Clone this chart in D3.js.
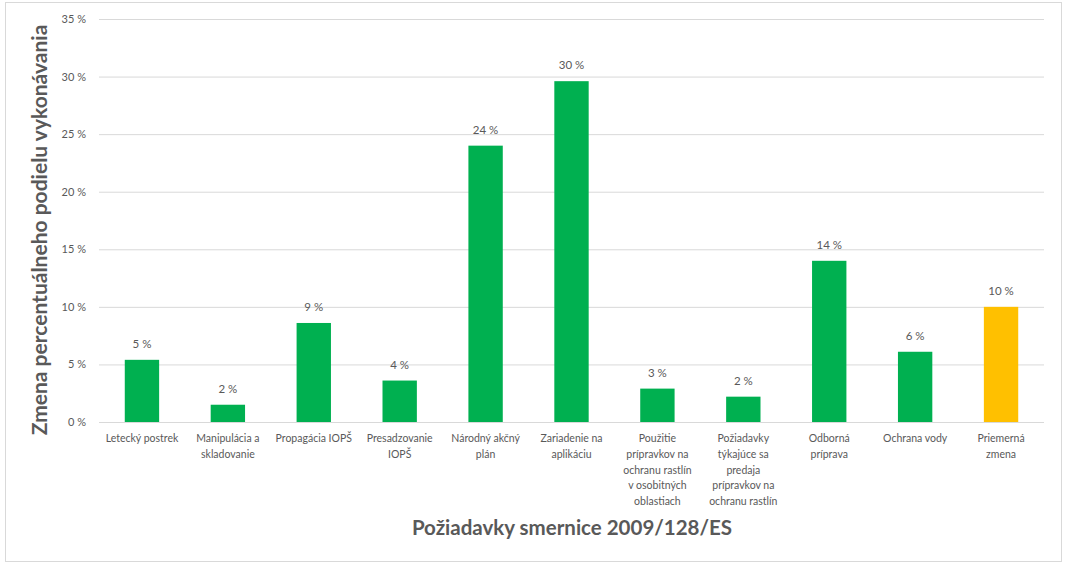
<!doctype html>
<html lang="sk">
<head>
<meta charset="UTF-8">
<script src="https://cdnjs.cloudflare.com/ajax/libs/d3/7.8.5/d3.min.js"></script>
<title>Požiadavky smernice 2009/128/ES</title>
<style>
  body { margin: 0; background: #fff; }
  text { font-family: Lato, "Noto Sans", sans-serif; fill: #595959; }
</style>
</head>
<body>
<div id="chart"></div>
<script>
// categories (pre-split into lines as in the original chart)
const categories = [
  ["Letecký postrek"],
  ["Manipulácia a", "skladovanie"],
  ["Propagácia IOPŠ"],
  ["Presadzovanie", "IOPŠ"],
  ["Národný akčný", "plán"],
  ["Zariadenie na", "aplikáciu"],
  ["Použitie", "prípravkov na", "ochranu rastlín", "v osobitných", "oblastiach"],
  ["Požiadavky", "týkajúce sa", "predaja", "prípravkov na", "ochranu rastlín"],
  ["Odborná", "príprava"],
  ["Ochrana vody"],
  ["Priemerná", "zmena"]
];
const values = [5.4, 1.5, 8.6, 3.6, 24.0, 29.6, 2.9, 2.2, 14.0, 6.1, 10.0];
const labels = ["5 %", "2 %", "9 %", "4 %", "24 %", "30 %", "3 %", "2 %", "14 %", "6 %", "10 %"];
const yTicks = [0, 5, 10, 15, 20, 25, 30, 35];

const W = 1068, H = 570;
const margin = {top: 19, right: 24, bottom: 148, left: 99};
const width = W - margin.left - margin.right,
      height = H - margin.top - margin.bottom;

const svg = d3.select("#chart").append("svg")
    .attr("width", W).attr("height", H);

// outer frame
svg.append("rect")
    .attr("x", 5.5).attr("y", 2.5)
    .attr("width", 1056).attr("height", 559)
    .attr("fill", "#fff").attr("stroke", "#d9d9d9");

const g = svg.append("g").attr("transform", `translate(${margin.left},${margin.top})`);

const x = d3.scaleBand().domain(d3.range(categories.length)).range([0, width])
    .paddingInner(0.6).paddingOuter(0.3);
const y = d3.scaleLinear().domain([0, 35]).range([height, 0]);

// gridlines
g.selectAll("line.grid").data(yTicks).join("line")
    .attr("class", "grid")
    .attr("x1", 0).attr("x2", width)
    .attr("y1", d => y(d) + 0.5).attr("y2", d => y(d) + 0.5)
    .attr("stroke", "#d9d9d9");

// y axis labels
const yAxis = g.append("g").call(d3.axisLeft(y).tickValues(yTicks)
    .tickFormat(d => d + " %").tickSize(0).tickPadding(13));
yAxis.select(".domain").remove();
yAxis.selectAll("text").attr("font-size", 11).attr("fill", "#595959")
    .style("font-family", "Lato, 'Noto Sans', sans-serif");

// bars
g.selectAll("rect.bar").data(values).join("rect")
    .attr("class", "bar")
    .attr("x", (d, i) => x(i))
    .attr("width", x.bandwidth())
    .attr("y", d => y(d))
    .attr("height", d => height - y(d))
    .attr("fill", (d, i) => i === values.length - 1 ? "#ffc000" : "#00b050");

// data labels
g.selectAll("text.val").data(values).join("text")
    .attr("class", "val")
    .attr("x", (d, i) => x(i) + x.bandwidth() / 2)
    .attr("y", d => y(d) - 12)
    .attr("text-anchor", "middle")
    .attr("font-size", 11.5)
    .text((d, i) => labels[i]);

// category labels
const cat = g.selectAll("text.cat").data(categories).join("text")
    .attr("class", "cat")
    .attr("text-anchor", "middle")
    .attr("font-size", 10.5)
    .attr("transform", (d, i) => `translate(${x(i) + x.bandwidth() / 2},${height + 20})`);
cat.selectAll("tspan").data(d => d).join("tspan")
    .attr("x", 0)
    .attr("dy", (d, j) => j === 0 ? 0 : 15.8)
    .text(d => d);

// axis titles
svg.append("text")
    .attr("x", 572).attr("y", 535)
    .attr("text-anchor", "middle")
    .attr("font-size", 20.5).attr("font-weight", "bold")
    .text("Požiadavky smernice 2009/128/ES");

svg.append("text")
    .attr("transform", "translate(47,230) rotate(-90)")
    .attr("text-anchor", "middle")
    .attr("font-size", 21).attr("font-weight", "bold")
    .text("Zmena percentuálneho podielu vykonávania");
</script>
</body>
</html>
